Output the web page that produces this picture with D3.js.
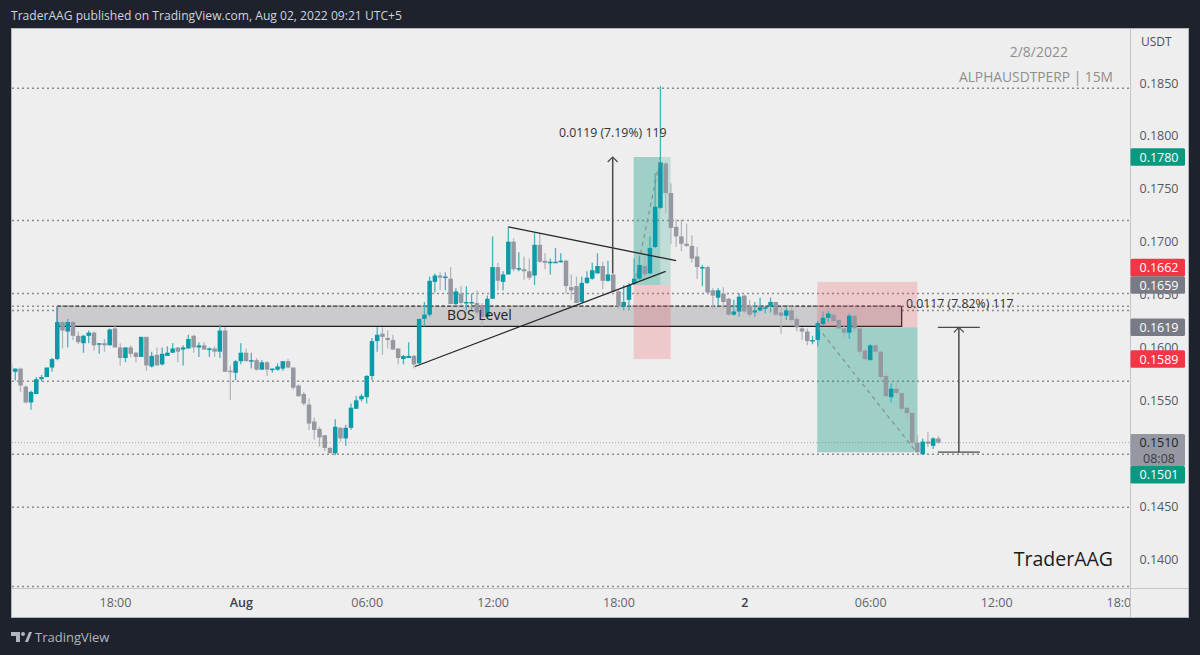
<!DOCTYPE html>
<html>
<head>
<meta charset="utf-8">
<style>
  html, body { margin: 0; padding: 0; background: #1e222d; }
  svg { display: block; }
  text { font-family: "Open Sans", sans-serif; }
</style>
</head>
<body>
<svg id="chart" width="1200" height="655"></svg>
<script src="https://cdn.jsdelivr.net/npm/d3@7/dist/d3.min.js"></script>
<script>
// 15m bars, index 0 is Jul 31 13:15 and the series starts one bar before that
const firstBar = -1;

const opens = [.1584,
  .1577,.1580,.1563,.1548,.1556,.1570,.1572,.1581,.1589,.1624,
  .1615,.1624,.1611,.1604,.1611,.1614,.1603,.1604,.1602,.1618,
  .1600,.1590,.1600,.1595,.1591,.1610,.1582,.1593,.1584,.1592,
  .1595,.1600,.1598,.1599,.1611,.1600,.1602,.1598,.1599,.1596,
  .1616,.1578,.1576,.1587,.1595,.1587,.1588,.1579,.1586,.1579,
  .1579,.1580,.1587,.1581,.1564,.1556,.1546,.1530,.1523,.1517,
  .1505,.1500,.1524,.1514,.1524,.1542,.1551,.1553,.1573,.1606,
  .1613,.1609,.1607,.1599,.1589,.1590,.1592,.1585,.1627,.1631,
  .1662,.1668,.1666,.1665,.1641,.1651,.1642,.1642,.1642,.1640,
  .1629,.1646,.1676,.1662,.1669,.1700,.1674,.1674,.1672,.1668,
  .1697,.1682,.1680,.1680,.1681,.1682,.1657,.1658,.1643,.1661,
  .1665,.1670,.1677,.1663,.1669,.1653,.1639,.1645,.1660,.1665,
  .1677,.1670,.1695,.1732,.1774,.1746,.1714,.1705,.1698,.1696,
  .1686,.1675,.1676,.1654,.1647,.1651,.1646,.1631,.1634,.1649,
  .1639,.1633,.1635,.1637,.1639,.1643,.1633,.1630,.1635,.1627,
  .1618,.1615,.1606,.1607,.1622,.1628,.1631,.1626,.1618,.1614,
  .1630,.1618,.1597,.1588,.1602,.1596,.1573,.1553,.1561,.1557,
  .1543,.1538,.1510,.1499,.1511,.1507,.1514];

const closes = [.1577,
  .1580,.1564,.1548,.1558,.1570,.1572,.1581,.1589,.1624,.1616,
  .1624,.1611,.1605,.1611,.1614,.1602,.1604,.1602,.1617,.1600,
  .1590,.1600,.1594,.1591,.1610,.1583,.1592,.1583,.1594,.1595,
  .1599,.1596,.1600,.1608,.1600,.1602,.1598,.1599,.1596,.1616,
  .1577,.1577,.1587,.1595,.1587,.1588,.1579,.1586,.1579,.1580,
  .1582,.1587,.1581,.1562,.1554,.1547,.1528,.1522,.1515,.1505,
  .1500,.1525,.1514,.1524,.1543,.1550,.1554,.1573,.1606,.1612,
  .1610,.1607,.1598,.1590,.1592,.1592,.1584,.1627,.1631,.1663,
  .1668,.1666,.1667,.1641,.1653,.1642,.1643,.1643,.1633,.1629,
  .1646,.1676,.1663,.1669,.1700,.1674,.1675,.1672,.1666,.1697,
  .1681,.1680,.1681,.1681,.1682,.1658,.1654,.1642,.1661,.1666,
  .1673,.1677,.1663,.1669,.1653,.1639,.1643,.1659,.1665,.1678,
  .1669,.1694,.1733,.1775,.1746,.1713,.1705,.1698,.1696,.1684,
  .1676,.1676,.1652,.1649,.1654,.1643,.1631,.1634,.1648,.1634,
  .1631,.1635,.1638,.1638,.1643,.1631,.1630,.1635,.1626,.1619,
  .1615,.1606,.1607,.1623,.1628,.1632,.1625,.1618,.1614,.1630,
  .1618,.1596,.1589,.1602,.1596,.1572,.1554,.1561,.1557,.1542,
  .1538,.1510,.1501,.1511,.1509,.1514,.1510];

const highs = [.1586,
  .1580,.1581,.1564,.1559,.1572,.1574,.1581,.1590,.1639,.1625,
  .1627,.1625,.1615,.1612,.1616,.1615,.1604,.1608,.1618,.1620,
  .1604,.1600,.1602,.1596,.1610,.1610,.1596,.1600,.1600,.1601,
  .1604,.1600,.1602,.1612,.1612,.1605,.1605,.1600,.1601,.1622,
  .1619,.1583,.1588,.1604,.1599,.1595,.1590,.1588,.1587,.1580,
  .1585,.1587,.1589,.1581,.1565,.1558,.1552,.1534,.1525,.1517,
  .1506,.1532,.1525,.1527,.1547,.1554,.1556,.1574,.1609,.1619,
  .1619,.1616,.1612,.1599,.1593,.1605,.1593,.1627,.1643,.1667,
  .1670,.1671,.1671,.1676,.1656,.1658,.1658,.1651,.1654,.1642,
  .1649,.1705,.1680,.1672,.1714,.1703,.1690,.1686,.1684,.1708,
  .1708,.1689,.1684,.1694,.1689,.1683,.1669,.1667,.1667,.1672,
  .1680,.1689,.1681,.1682,.1670,.1654,.1659,.1661,.1684,.1687,
  .1686,.1705,.1765,.1847,.1775,.1755,.1721,.1721,.1717,.1706,
  .1695,.1678,.1677,.1656,.1656,.1657,.1647,.1645,.1651,.1650,
  .1645,.1643,.1647,.1639,.1647,.1643,.1638,.1638,.1639,.1629,
  .1619,.1618,.1611,.1625,.1634,.1635,.1633,.1627,.1621,.1632,
  .1635,.1619,.1599,.1603,.1603,.1597,.1577,.1566,.1568,.1557,
  .1543,.1539,.1517,.1514,.1520,.1515,.1516];

const lows = [.1575,
  .1569,.1558,.1547,.1541,.1556,.1568,.1572,.1577,.1588,.1599,
  .1600,.1607,.1603,.1595,.1604,.1597,.1594,.1596,.1602,.1600,
  .1583,.1586,.1591,.1586,.1591,.1578,.1581,.1583,.1583,.1592,
  .1595,.1586,.1583,.1599,.1595,.1591,.1598,.1591,.1591,.1590,
  .1577,.1550,.1569,.1584,.1587,.1580,.1578,.1579,.1573,.1576,
  .1578,.1578,.1580,.1560,.1553,.1545,.1522,.1513,.1506,.1502,
  .1500,.1498,.1511,.1507,.1522,.1542,.1549,.1547,.1569,.1596,
  .1593,.1599,.1598,.1584,.1584,.1590,.1580,.1584,.1620,.1629,
  .1652,.1654,.1654,.1641,.1640,.1640,.1635,.1635,.1629,.1620,
  .1629,.1646,.1654,.1654,.1669,.1672,.1672,.1664,.1664,.1659,
  .1680,.1674,.1669,.1680,.1680,.1651,.1645,.1642,.1642,.1660,
  .1664,.1670,.1655,.1662,.1653,.1636,.1635,.1635,.1659,.1664,
  .1664,.1669,.1694,.1731,.1727,.1698,.1695,.1691,.1695,.1680,
  .1665,.1658,.1651,.1636,.1639,.1636,.1630,.1630,.1629,.1632,
  .1629,.1629,.1634,.1632,.1633,.1630,.1613,.1626,.1625,.1615,
  .1607,.1602,.1603,.1601,.1621,.1624,.1624,.1617,.1607,.1608,
  .1614,.1592,.1587,.1588,.1594,.1568,.1553,.1548,.1554,.1541,
  .1532,.1505,.1500,.1499,.1506,.1504,.1509];

// 0.1500 sits fully under the last price tag, so it is left out
const priceTicks = [.185, .18, .175, .17, .165, .16, .155, .145, .14];
const timeTicks = [19, 43, 67, 91, 115, 139, 163, 187, 211];
const timeLabels = ['18:00', 'Aug', '06:00', '12:00', '18:00', '2', '06:00', '12:00', '18:00'];
const dayLabels = ['Aug', '2'];

// drawn horizontal levels
const dottedLevels = [.1845, .1720, .1651, .1639, .1635, .1568, .1499, .1449, .1374];
const lastPrice = .1510;

// drawing tools, in bars and prices
const bosBox = { from: 8, to: 169, top: .1639, bottom: .1620 };
const longBars = [117.9, 123, 124.95];
const longPrices = [.1780, .1659, .1589];
const shortBars = [152.9, 172];
const shortPrices = [.1662, .1619, .1501];
const trendUp = [[76.2, .1582], [124, .1672]];
const trendDown = [[94, .1714], [126, .1682]];
const rangeUp = { bar: 113.9, from: .1670, to: .1780 };
const rangeDown = { bar: 179.9, barFrom: 175.9, barTo: 183.9, from: .1501, to: .1619 };

const candles = opens.map((o, i) => ({
  bar: firstBar + i, open: o, close: closes[i], high: highs[i], low: lows[i]
}));

const svg = d3.select('#chart');

const x = d3.scaleLinear().domain([0, 176]).range([15.3, 938.4]);
const y = d3.scaleLinear().domain([.185, .14]).range([83, 559]);

const pane = { left: 12, right: 1130, top: 29, bottom: 588, outerRight: 1188, outerBottom: 617 };

const defs = svg.append('defs');
defs.append('clipPath').attr('id', 'pane-clip').append('rect')
  .attr('x', pane.left).attr('y', pane.top)
  .attr('width', pane.right - pane.left).attr('height', pane.bottom - pane.top);
defs.append('clipPath').attr('id', 'time-clip').append('rect')
  .attr('x', pane.left).attr('y', pane.bottom)
  .attr('width', pane.right - pane.left).attr('height', pane.outerBottom - pane.bottom);

// Frame
svg.append('rect').attr('width', 1200).attr('height', 655).attr('fill', '#1e222d');
svg.append('rect')
  .attr('x', pane.left - 0.5).attr('y', pane.top - 0.5)
  .attr('width', pane.outerRight - pane.left + 1).attr('height', pane.outerBottom - pane.top + 1)
  .attr('fill', '#eeeeee').attr('stroke', '#b2b5be');
svg.append('line')
  .attr('x1', pane.right + 0.5).attr('x2', pane.right + 0.5)
  .attr('y1', pane.top).attr('y2', pane.outerBottom)
  .attr('stroke', '#c4c6cc');
svg.append('line')
  .attr('x1', pane.left).attr('x2', pane.outerRight)
  .attr('y1', pane.bottom + 0.5).attr('y2', pane.bottom + 0.5)
  .attr('stroke', '#c4c6cc');

const plot = svg.append('g').attr('clip-path', 'url(#pane-clip)');

// Horizontal levels
plot.append('line')
  .attr('x1', pane.left).attr('x2', pane.right)
  .attr('y1', y(lastPrice)).attr('y2', y(lastPrice))
  .attr('stroke', '#a9abb2').attr('stroke-dasharray', '1 2');
plot.selectAll('.level')
  .data(dottedLevels)
  .enter()
  .append('line')
  .attr('class', 'level')
  .attr('x1', pane.left).attr('x2', pane.right)
  .attr('y1', d => y(d)).attr('y2', d => y(d))
  .attr('stroke', '#8c8c8c')
  .attr('stroke-width', 1.5)
  .attr('stroke-dasharray', '2 3');

// BOS zone
plot.append('rect')
  .attr('x', x(bosBox.from)).attr('y', y(bosBox.top))
  .attr('width', x(bosBox.to) - x(bosBox.from))
  .attr('height', y(bosBox.bottom) - y(bosBox.top))
  .attr('fill', '#cbcbcd');
plot.append('path')
  .attr('d', d3.line()([
    [x(bosBox.from), y(bosBox.top)], [x(bosBox.from), y(bosBox.bottom)],
    [x(bosBox.to), y(bosBox.bottom)], [x(bosBox.to), y(bosBox.top)]
  ]))
  .attr('fill', 'none').attr('stroke', '#1c1c1c').attr('stroke-width', 1.2);
plot.append('line')
  .attr('x1', x(bosBox.from)).attr('x2', x(bosBox.to))
  .attr('y1', y(bosBox.top)).attr('y2', y(bosBox.top))
  .attr('stroke', '#333').attr('stroke-width', 1.2).attr('stroke-dasharray', '4 2');

// Long and short position tools
const zone = (x0, x1, p0, p1, color, opacity) => plot.append('rect')
  .attr('x', x(x0)).attr('width', x(x1) - x(x0))
  .attr('y', y(p0)).attr('height', y(p1) - y(p0))
  .attr('fill', color).attr('fill-opacity', opacity);

zone(longBars[0], longBars[1], longPrices[0], longPrices[1], '#089981', 0.35);
zone(longBars[1], longBars[2], longPrices[0], longPrices[1], '#089981', 0.2);
zone(longBars[0], longBars[2], longPrices[1], longPrices[2], '#f23645', 0.2);
zone(shortBars[0], shortBars[1], shortPrices[0], shortPrices[1], '#f23645', 0.2);
zone(shortBars[0], shortBars[1], shortPrices[1], shortPrices[2], '#089981', 0.35);

// Candles
const upBody = '#0b9aa8', downBody = '#9598a1';
const upWick = '#45b3bd', downWick = '#b4b6bd';
const candle = plot.selectAll('.candle')
  .data(candles)
  .enter()
  .append('g')
  .attr('class', 'candle');
candle.append('line')
  .attr('x1', d => x(d.bar)).attr('x2', d => x(d.bar))
  .attr('y1', d => y(d.high)).attr('y2', d => y(d.low))
  .attr('stroke', d => d.close >= d.open ? upWick : downWick)
  .attr('stroke-width', 1.3);
candle.append('rect')
  .attr('x', d => x(d.bar) - 2.25)
  .attr('width', 4.5)
  .attr('y', d => y(Math.max(d.open, d.close)))
  .attr('height', d => Math.max(1.5, Math.abs(y(d.open) - y(d.close))))
  .attr('fill', d => d.close >= d.open ? upBody : downBody);

// Trade path inside the position tools
const tradePath = (a, b) => plot.append('line')
  .attr('x1', x(a[0])).attr('y1', y(a[1]))
  .attr('x2', x(b[0])).attr('y2', y(b[1]))
  .attr('stroke', '#8a8d94').attr('stroke-width', 1.2).attr('stroke-dasharray', '4 4');
tradePath([118, .1659], [123, .1780]);
tradePath([153, .1619], [171.5, .1503]);

// Trend lines
[trendUp, trendDown].forEach(t => {
  plot.append('line')
    .attr('x1', x(t[0][0])).attr('y1', y(t[0][1]))
    .attr('x2', x(t[1][0])).attr('y2', y(t[1][1]))
    .attr('stroke', '#262626').attr('stroke-width', 1.3);
});

// Price range arrows
const arrowColor = '#4a4a4a';
const arrow = (bar, from, to) => {
  plot.append('line')
    .attr('x1', x(bar)).attr('x2', x(bar))
    .attr('y1', y(from)).attr('y2', y(to))
    .attr('stroke', arrowColor).attr('stroke-width', 1.5);
  plot.append('path')
    .attr('d', d3.line()([
      [x(bar) - 5, y(to) + 5], [x(bar), y(to)], [x(bar) + 5, y(to) + 5]
    ]))
    .attr('fill', 'none').attr('stroke', arrowColor).attr('stroke-width', 1.2);
};
arrow(rangeUp.bar, rangeUp.from, rangeUp.to);
arrow(rangeDown.bar, rangeDown.from, rangeDown.to);
[rangeDown.from, rangeDown.to].forEach(p => {
  plot.append('line')
    .attr('x1', x(rangeDown.barFrom)).attr('x2', x(rangeDown.barTo))
    .attr('y1', y(p)).attr('y2', y(p))
    .attr('stroke', arrowColor).attr('stroke-width', 1.4);
});

// Chart text
const note = (txt, px, py, size, color, anchor) => svg.append('text')
  .attr('x', px).attr('y', py)
  .attr('font-size', size).attr('fill', color)
  .attr('text-anchor', anchor || 'start')
  .text(txt);

note('BOS Level', 447, 320, 14, '#222');
note('0.0119 (7.19%) 119', x(rangeUp.bar), 137, 12.3, '#333', 'middle');
note('0.0117 (7.82%) 117', 906, 308, 12.3, '#333');
note('2/8/2022', 1068, 57, 14, '#8f8f8f', 'end');
note('ALPHAUSDTPERP | 15M', 1113, 82, 13.8, '#8f8f8f', 'end');
note('TraderAAG', 1113, 566, 19.5, '#1a1a1a', 'end');
note('USDT', 1141, 46, 12, '#4a4e5a');
note('TraderAAG published on TradingView.com, Aug 02, 2022 09:21 UTC+5', 11, 20, 12.1, '#d1d4dc');
note('TradingView', 35, 642, 13, '#b2b5be');

// Axes
const priceAxis = svg.append('g')
  .attr('transform', `translate(${pane.right},0)`)
  .call(d3.axisRight(y).tickValues(priceTicks).tickSize(0).tickFormat(d3.format('.4f')));
priceAxis.select('.domain').remove();
priceAxis.selectAll('text')
  .attr('x', 29)
  .attr('text-anchor', 'middle')
  .attr('font-size', 12.5)
  .attr('font-family', '"Open Sans", sans-serif')
  .attr('fill', '#555862');

const timeAxis = svg.append('g')
  .attr('clip-path', 'url(#time-clip)')
  .append('g')
  .attr('transform', `translate(0,${pane.bottom})`)
  .call(d3.axisBottom(x).tickValues(timeTicks).tickSize(0)
    .tickFormat((d, i) => timeLabels[i]));
timeAxis.select('.domain').remove();
timeAxis.selectAll('text')
  .attr('y', 10)
  .attr('font-size', 12.5)
  .attr('font-family', '"Open Sans", sans-serif')
  .attr('fill', (d, i) => dayLabels.includes(timeLabels[i]) ? '#3a3d46' : '#60636d')
  .attr('font-weight', (d, i) => dayLabels.includes(timeLabels[i]) ? 600 : 400);

// Price tags on the right scale, stacked where two would collide
const tagHeight = 17.5;
const tag = (value, color, centre, textColor) => {
  const g = svg.append('g');
  g.append('rect')
    .attr('x', pane.right + 0.5).attr('width', 54.5)
    .attr('y', centre - tagHeight / 2).attr('height', tagHeight)
    .attr('rx', 1.5)
    .attr('fill', color);
  g.append('text')
    .attr('x', pane.right + 29).attr('y', centre + 4.5)
    .attr('text-anchor', 'middle')
    .attr('font-size', 12.5)
    .attr('fill', textColor || '#ffffff')
    .text(d3.format('.4f')(value));
};
const green = '#089981', red = '#f23645', grey = '#787b86';
tag(.1780, green, y(.1780));
tag(.1659, grey, y(.1659));
tag(.1662, red, y(.1659) - tagHeight);
tag(.1619, grey, y(.1619));
tag(.1589, red, y(.1589));

svg.append('rect')
  .attr('x', pane.right + 0.5).attr('width', 54.5)
  .attr('y', y(lastPrice) - tagHeight / 2).attr('height', 32)
  .attr('rx', 1.5)
  .attr('fill', '#9598a1');
note('0.1510', pane.right + 29, y(lastPrice) + 4.5, 12.5, '#1e222d', 'middle');
note('08:08', pane.right + 29, y(lastPrice) + 20, 12.5, '#3a3d46', 'middle');
tag(.1501, green, y(lastPrice) + 32);

// TradingView mark
svg.append('path')
  .attr('d', 'M11 632h9v10h-4v-6h-5z M25 642l4-10h3l-4 10z')
  .attr('fill', '#b2b5be');
svg.append('circle').attr('cx', 23).attr('cy', 634).attr('r', 2).attr('fill', '#b2b5be');
</script>
</body>
</html>
